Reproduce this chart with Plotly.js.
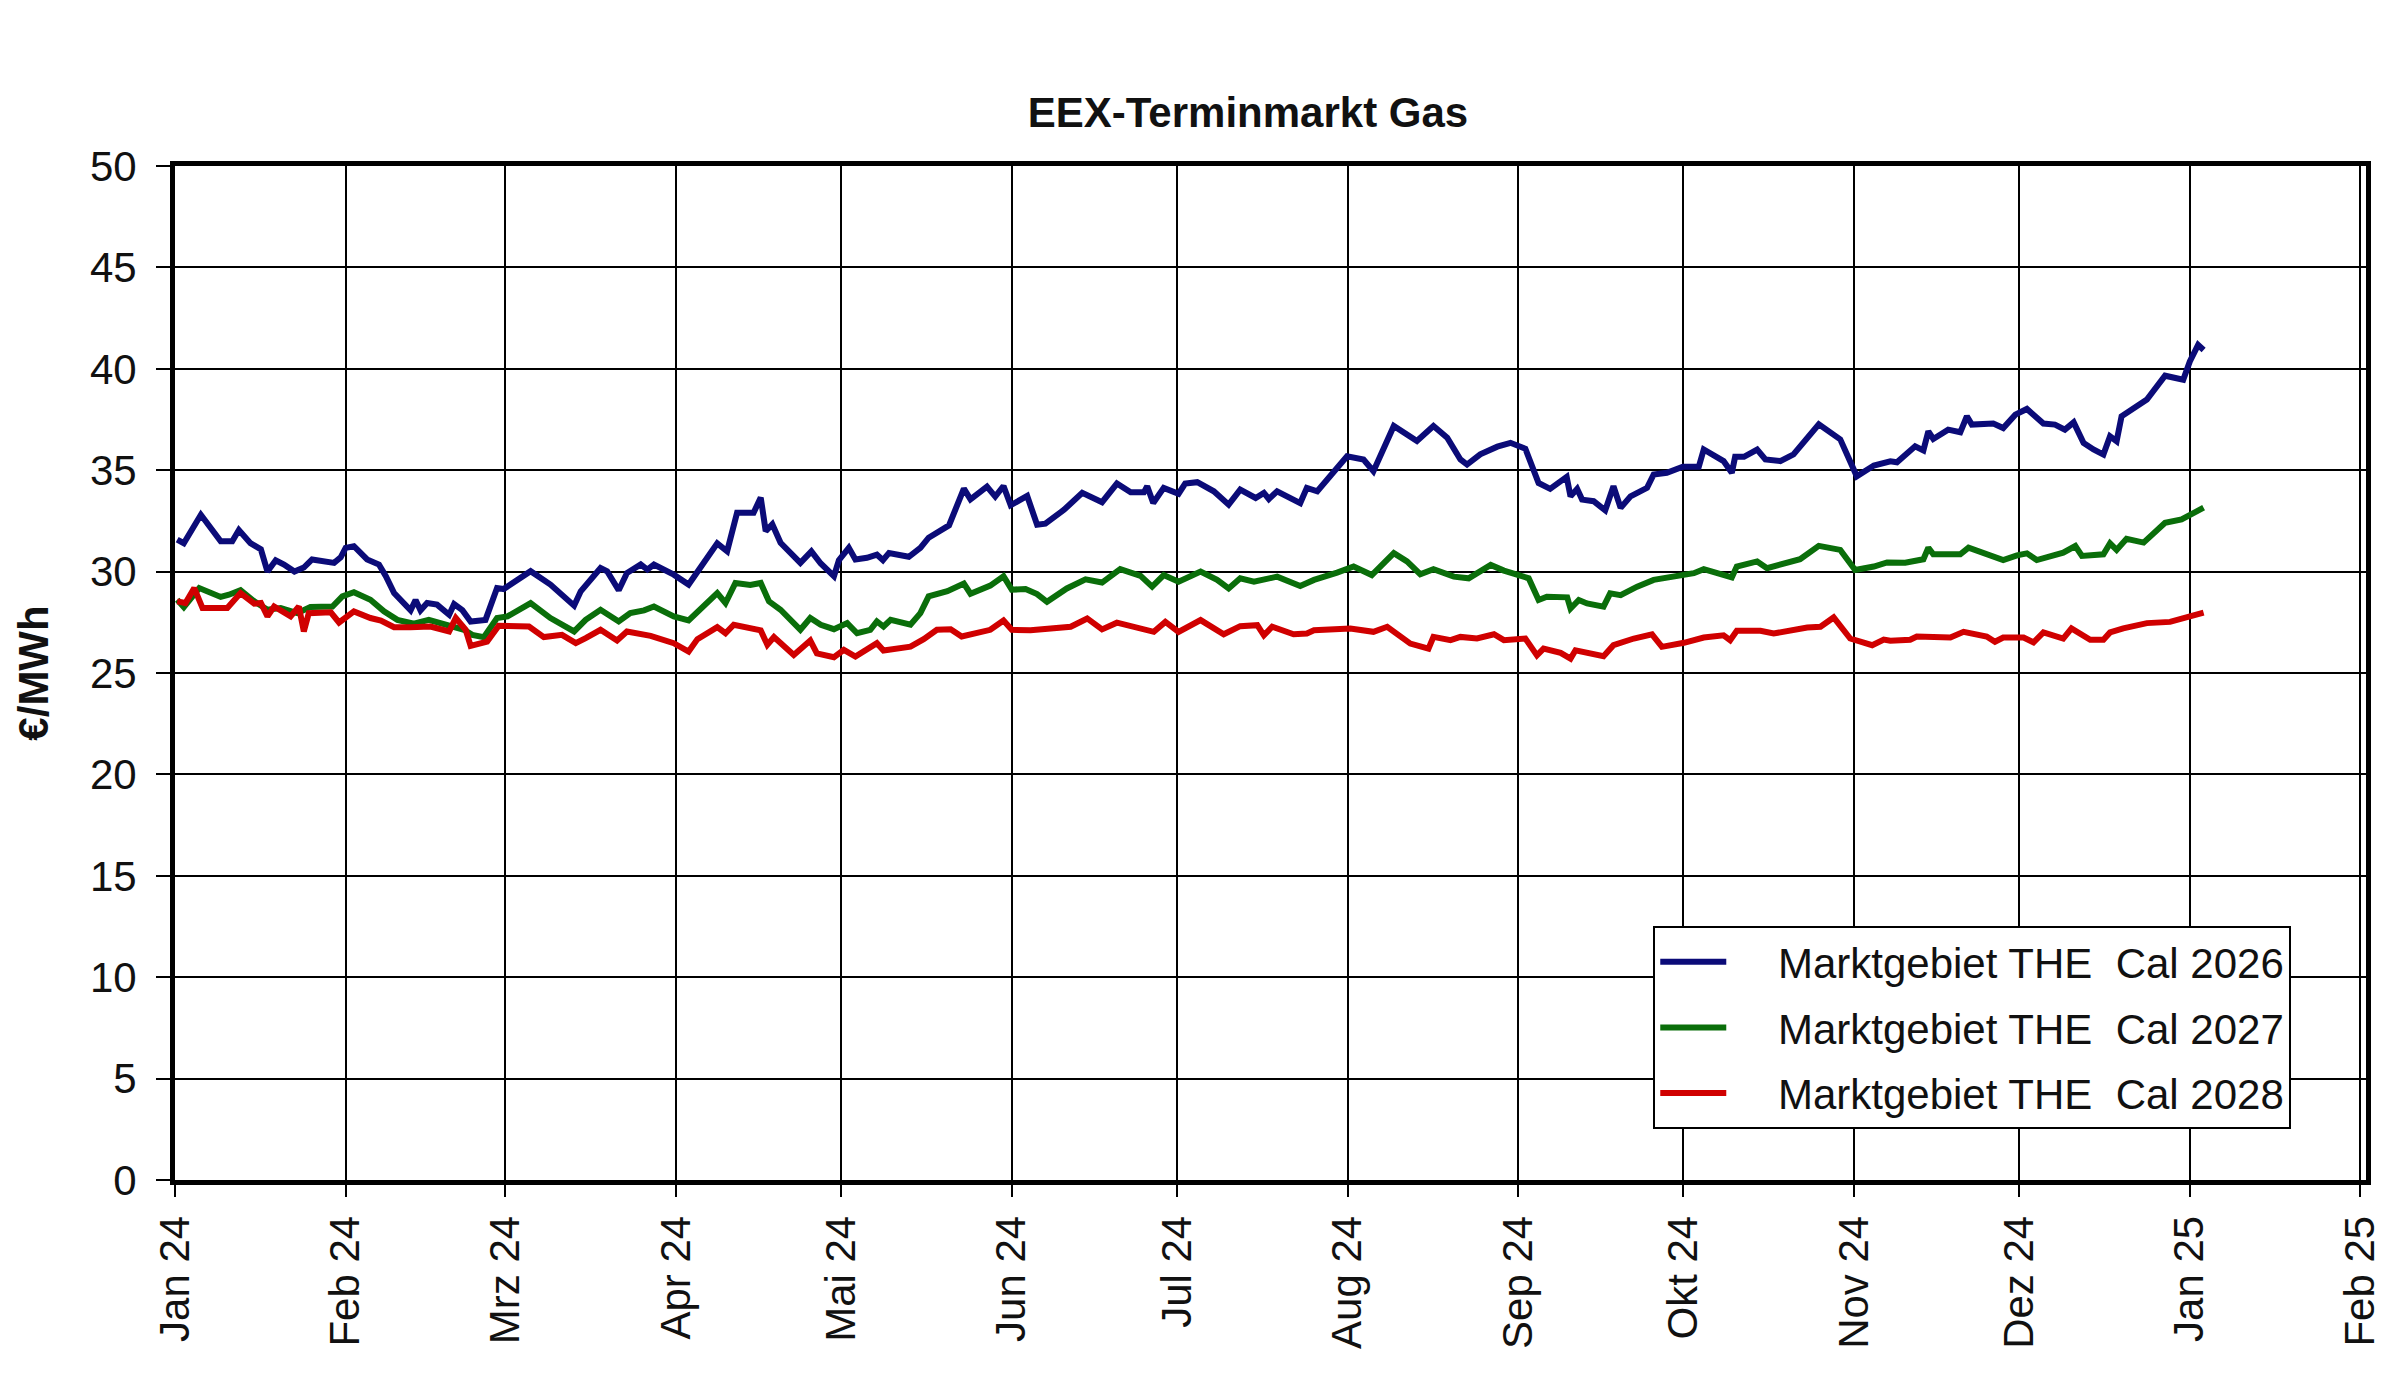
<!DOCTYPE html>
<html>
<head>
<meta charset="utf-8">
<script src="https://cdn.plot.ly/plotly-3.0.1.min.js"></script>
<style>
  html, body { margin: 0; padding: 0; background: #fff; }
  #chart { width: 2400px; height: 1374px; }
</style>
</head>
<body>
<div id="chart"></div>
<script>
// x values are days counted from 1 Jan 2024
var day26 = [0.4,1.6,4.7,8.3,10.4,11.6,13.7,15.6,16.8,18.3,19.8,21.7,23.4,24.9,28.9,30.1,31,32.5,34.9,37.05,38.3,39.8,42.8,43.7,44.6,45.8,47.6,49.8,50.7,52.2,53.7,56.4,58.5,59.7,64.6,68.2,72.5,73.7,
  77.3,78.5,80.6,82.1,84.6,85.8,87,90.6,93.3,95.5,98.5,100.3,102.1,105.1,106.4,107.3,108.5,110,113.6,115.6,117.3,119.7,120.6,122.4,123.6,125.7,127.5,128.6,129.7,133.3,135.4,136.9,140.6,143.3,144.5,147.5,149,150.5,151.8,154.8,
  156.6,158.1,161.5,164.8,168.4,171.1,173.6,176,176.6,177.7,179.6,182.3,183.5,185.7,188.7,191.4,193.5,196.3,197.8,198.7,200.2,204.4,205.6,207.5,212.9,215.9,217.7,221.4,225.6,228.6,231.1,
  233.5,234.7,237.1,240.2,242.6,245.3,247.7,249.8,252.8,253.5,254.7,255.6,257.7,259.8,261.3,262.6,264.4,267.4,268.6,271,273.9,276.8,277.7,281.3,282.8,283.4,285,287.4,288.9,291.6,294,298.6,302.5,304,305.5,308.6,
  311.6,312.8,316.1,317.6,318.5,319.4,322.1,324.3,325.5,326.4,330.3,332.1,334.3,336.4,339.4,341.5,343.3,344.9,346.7,348.5,350.3,351.5,352.7,353.6,356.3,358.2,361.5,363.6,364.8,366,367.5,368.5];
var cal26 = [31.58,31.4,32.8,31.5,31.5,32.05,31.4,31.1,30.0,30.56,30.35,30.0,30.2,30.6,30.43,30.7,31.17,31.25,30.6,30.35,29.77,28.94,28.09,28.6,28.09,28.45,28.37,27.87,28.4,28.1,27.54,27.62,29.19,29.14,30.02,29.36,28.32,29.03,
  30.18,30.02,29.08,29.93,30.35,30.1,30.35,29.85,29.36,30.18,31.39,31.0,32.9,32.9,33.65,32.0,32.33,31.42,30.43,31.0,30.4,29.77,30.56,31.17,30.6,30.68,30.84,30.56,30.92,30.73,31.17,31.67,32.28,34.09,33.56,34.19,33.7,34.22,33.27,33.73,
  32.31,32.36,33.05,33.88,33.42,34.34,33.91,33.91,34.21,33.38,34.13,33.84,34.34,34.41,33.96,33.3,34.04,33.63,33.88,33.58,33.96,33.38,34.13,33.96,35.69,35.53,34.95,37.18,36.44,37.18,36.6,
  35.53,35.28,35.78,36.16,36.35,36.06,34.37,34.08,34.67,33.71,34.08,33.55,33.47,33.02,34.21,33.14,33.71,34.13,34.79,34.87,35.17,35.17,36.02,35.45,34.87,35.66,35.66,36.02,35.53,35.45,35.78,37.26,36.52,35.53,34.7,35.23,
  35.44,35.39,36.18,35.98,36.92,36.54,37.0,36.87,37.66,37.25,37.3,37.08,37.74,38.02,37.3,37.25,37.0,37.36,36.34,36.02,35.77,36.67,36.43,37.66,38.11,38.48,39.66,39.54,39.46,40.36,41.18,40.93];

var day27 = [0.4,1.6,4.4,8.3,9.8,11.9,14.4,16.8,19.2,22.2,24.6,28.6,30.4,32.5,35.5,37.96,40.4,43.4,46.1,49.5,52.5,54,56.1,58.5,60.4,64.6,68.2,72.5,74.6,
  77.3,80.6,82.7,85.2,87,90.6,93.3,95.5,98.5,100,101.8,104.5,106.4,107.9,110,113.6,115.4,117.3,119.7,122.1,123.9,126.3,127.5,128.7,130,133.6,135.4,136.9,140.3,143.3,144.5,148.1,150.5,152,154.5,
  156.6,158.4,162,165.4,168.4,171.7,175.4,177.5,179.6,182.3,186.3,189.3,191.4,193.5,196,198.4,200.2,204.4,206.9,211.1,214.1,217.4,221.4,223.8,226.2,228.6,232.3,
  235,239,241.4,244.1,245.9,247.7,249.2,252.9,253.5,255,256.5,259.5,260.7,262.6,265.6,268.6,272.2,275.9,277.7,280.7,282.8,283.7,287.4,289.2,295.2,298.6,302.5,305.2,308.6,311,
  314.3,317.6,318.5,319.4,324.3,325.8,328.2,332.1,334.6,336.4,338.2,343,345.2,346.4,350.3,351.5,352.7,354.5,357.6,361.5,364.5,366.6,368.5];
var cal27 = [28.61,28.25,29.19,28.75,28.86,29.08,28.53,28.12,28.2,27.95,28.25,28.28,28.78,28.98,28.61,28.04,27.62,27.43,27.62,27.33,27.13,26.88,26.77,27.71,27.79,28.45,27.71,27.05,27.62,
  28.12,27.54,27.95,28.09,28.28,27.79,27.59,28.2,28.94,28.45,29.44,29.34,29.44,28.53,28.12,27.13,27.71,27.38,27.16,27.46,26.96,27.13,27.54,27.29,27.62,27.38,27.95,28.78,29.03,29.41,28.91,29.31,29.77,29.11,29.14,
  28.89,28.51,29.17,29.62,29.46,30.12,29.79,29.26,29.83,29.5,30.0,29.59,29.17,29.67,29.5,29.67,29.75,29.29,29.59,29.95,30.25,29.83,30.91,30.5,29.87,30.12,29.75,
  29.67,30.33,30.05,29.83,29.67,28.6,28.76,28.73,28.18,28.6,28.43,28.27,28.93,28.84,29.26,29.59,29.79,29.92,30.12,29.92,29.72,30.25,30.5,30.17,30.61,31.27,31.07,30.08,30.25,30.45,
  30.44,30.61,31.18,30.85,30.85,31.18,30.93,30.57,30.8,30.9,30.57,30.93,31.26,30.77,30.85,31.39,31.07,31.62,31.43,32.41,32.57,32.9,33.15];

var day28 = [0.4,1.9,3.5,5,9.5,11.9,14.4,15.6,16.8,18,21,22.5,23.4,24.3,28.3,29.8,32.5,35.5,37.4,39.8,42.8,46.4,49.8,51,52.8,53.7,56.7,58.8,64.3,67,70.3,72.8,74.6,
  77.3,80.3,82.1,86.4,90.6,93.3,94.9,98.5,100,101.5,106.4,107.6,108.8,112.4,115.4,116.6,119.7,121.5,123.6,127.5,128.7,133.6,136,138.4,140.9,142.9,145.1,148.1,150.5,152,
  155.4,157.2,162.7,165.7,168.4,171.1,175.4,177.8,179.9,182.3,186.3,190.5,193.5,196.6,197.8,199.3,203.2,205.6,206.9,213.5,217.7,220.2,224.4,227.7,228.6,231.7,
  233.5,236.5,239.6,241.4,245.3,247.4,248.6,251.7,253.5,254.4,259.5,261.3,265,268.3,270.1,274.1,277.7,281.3,282.5,283.7,288,290.4,296.5,298.9,301.3,304.3,308.3,310.4,
  311.6,315.2,316.4,322.5,324.9,329.1,330.6,332.1,335.8,337.6,339.4,343,344.5,347.9,350.3,351.5,353.9,358.2,362.4,364.8,368.5];
var cal28 = [28.53,28.45,29.19,28.2,28.2,28.94,28.42,28.45,27.79,28.28,27.79,28.28,27.05,27.95,27.99,27.49,28.04,27.71,27.59,27.26,27.26,27.29,27.05,27.71,27.13,26.34,26.55,27.33,27.29,26.77,26.88,26.47,26.72,
  27.13,26.6,27.05,26.83,26.47,26.06,26.67,27.26,26.96,27.38,27.1,26.39,26.77,25.89,26.6,25.97,25.78,26.14,25.81,26.47,26.11,26.3,26.67,27.13,27.16,26.8,26.96,27.13,27.59,27.13,
  27.11,27.15,27.28,27.69,27.15,27.48,27.19,27.03,27.52,27.03,27.61,26.91,27.31,27.36,26.86,27.28,26.91,26.95,27.11,27.19,27.03,27.28,26.45,26.2,26.78,26.62,
  26.78,26.7,26.91,26.62,26.7,25.87,26.2,25.99,25.71,26.12,25.83,26.37,26.7,26.91,26.29,26.49,26.75,26.86,26.62,27.08,27.08,26.95,27.24,27.28,27.74,26.7,26.37,26.65,
  26.59,26.64,26.8,26.75,27.03,26.8,26.54,26.75,26.75,26.51,27.0,26.7,27.2,26.64,26.64,27.0,27.2,27.46,27.52,27.69,27.98];

// month starts (days from 1 Jan 2024) and their labels
var monthDays = [0,31,60,91,121,152,182,213,244,274,305,335,366,397];
var monthLabels = ["Jan 24","Feb 24","Mrz 24","Apr 24","Mai 24","Jun 24","Jul 24","Aug 24","Sep 24","Okt 24","Nov 24","Dez 24","Jan 25","Feb 25"];

// leading no-break spaces give the gap between legend line and text
var seriesNames = ["\u00a0\u00a0\u00a0\u00a0Marktgebiet THE\u00a0 Cal 2026",
                   "\u00a0\u00a0\u00a0\u00a0Marktgebiet THE\u00a0 Cal 2027",
                   "\u00a0\u00a0\u00a0\u00a0Marktgebiet THE\u00a0 Cal 2028"];
var seriesColors = ["#0b0b78","#0a6e0a","#d00000"];

var font = "Liberation Sans, Arial, sans-serif";

function line(x, y, i) {
  return {
    x: x, y: y, type: "scatter", mode: "lines",
    name: seriesNames[i], legendgroup: "g" + i,
    line: { color: seriesColors[i], width: 6 },
    hoverinfo: "skip"
  };
}

var data = [line(day26, cal26, 0), line(day27, cal27, 1), line(day28, cal28, 2)];

var layout = {
  width: 2400, height: 1374,
  margin: { l: 175, r: 34, t: 166, b: 194 },
  paper_bgcolor: "#fff", plot_bgcolor: "#fff",
  font: { family: font, size: 42, color: "#111" },
  title: {
    text: "EEX-Terminmarkt Gas",
    font: { family: font, size: 42, weight: "bold", color: "#111" },
    x: 0.52, xanchor: "center", y: 0.918, yanchor: "middle"
  },
  xaxis: {
    range: [0, 398], autorange: false,
    tickmode: "array", tickvals: monthDays, ticktext: monthLabels,
    tickangle: -90, ticks: "outside", ticklen: 12, tickwidth: 2, tickcolor: "#000",
    ticklabelstandoff: 2,
    showgrid: true, gridcolor: "#000", gridwidth: 2,
    showline: true, linecolor: "#000", linewidth: 5, mirror: true,
    zeroline: false, fixedrange: true
  },
  yaxis: {
    range: [0, 50], autorange: false, dtick: 5,
    ticks: "outside", ticklen: 14, tickwidth: 2, tickcolor: "#000",
    ticklabelstandoff: 11,
    showgrid: true, gridcolor: "#000", gridwidth: 2,
    showline: true, linecolor: "#000", linewidth: 5, mirror: true,
    zeroline: false, fixedrange: true,
    title: { text: "€/MWh", font: { family: font, size: 42, weight: "bold", color: "#111" }, standoff: 30 }
  },
  showlegend: true,
  legend: {
    x: 0.6747, y: 0.2505, xanchor: "left", yanchor: "top",
    bgcolor: "#fff", bordercolor: "#000", borderwidth: 2,
    font: { family: font, size: 42, color: "#111" },
    itemwidth: 66, tracegroupgap: 8, traceorder: "grouped"
  }
};

Plotly.newPlot("chart", data, layout, { displayModeBar: false, staticPlot: true });
</script>
</body>
</html>
